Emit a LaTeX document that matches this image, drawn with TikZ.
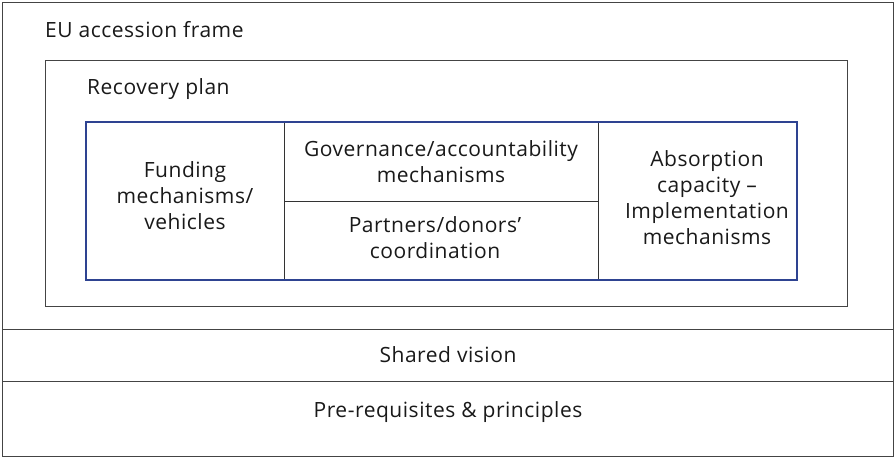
\documentclass[tikz,border=0pt]{standalone}
\usepackage{fontspec}
\setmainfont[LetterSpace=2.5]{Open Sans}
\definecolor{planblue}{HTML}{2E4391}
\definecolor{framegray}{HTML}{444444}
\tikzset{
  frame/.style={draw=framegray, line width=1pt},
  bluebox/.style={draw=planblue, line width=2pt},
  cellline/.style={draw=black!80, line width=0.9pt},
  label/.style={font=\fontsize{21}{26}\selectfont, text=black!90, inner sep=0pt},
  celltext/.style={label, align=center}
}
\begin{document}
\begin{tikzpicture}[x=1pt, y=-1pt]
  \useasboundingbox (0,0) rectangle (895,459);
  % Frames
  \draw[frame] (2,2) rectangle (893,456);
  \draw[frame] (2,329) -- (893,329);
  \draw[frame] (2,381) -- (893,381);
  \draw[frame] (45,60) rectangle (847,306);
  % Plan box
  \draw[cellline] (284,122) -- (284,280);
  \draw[cellline] (598,122) -- (598,280);
  \draw[cellline] (284,201) -- (598,201);
  \draw[bluebox] (86,122) rectangle (797,280);
  % Labels
  \node (EU) [label, anchor=west] at (45,30) {EU accession frame};
  \node (RP) [label, anchor=west] at (87,89) {Recovery plan};
  \node (FM) [celltext] at (185,196) {Funding\\mechanisms/\\vehicles};
  \node (GA) [celltext] at (441,162) {Governance/accountability\\mechanisms};
  \node (PD) [celltext] at (435,238) {Partners/donors’\\coordination};
  \node (AC) [celltext] at (707,198) {Absorption\\capacity –\\Implementation\\mechanisms};
  \node (SV) [label] at (448,355) {Shared vision};
  \node (PP) [label] at (448,412) {Pre-requisites \& principles};
\end{tikzpicture}
\end{document}
